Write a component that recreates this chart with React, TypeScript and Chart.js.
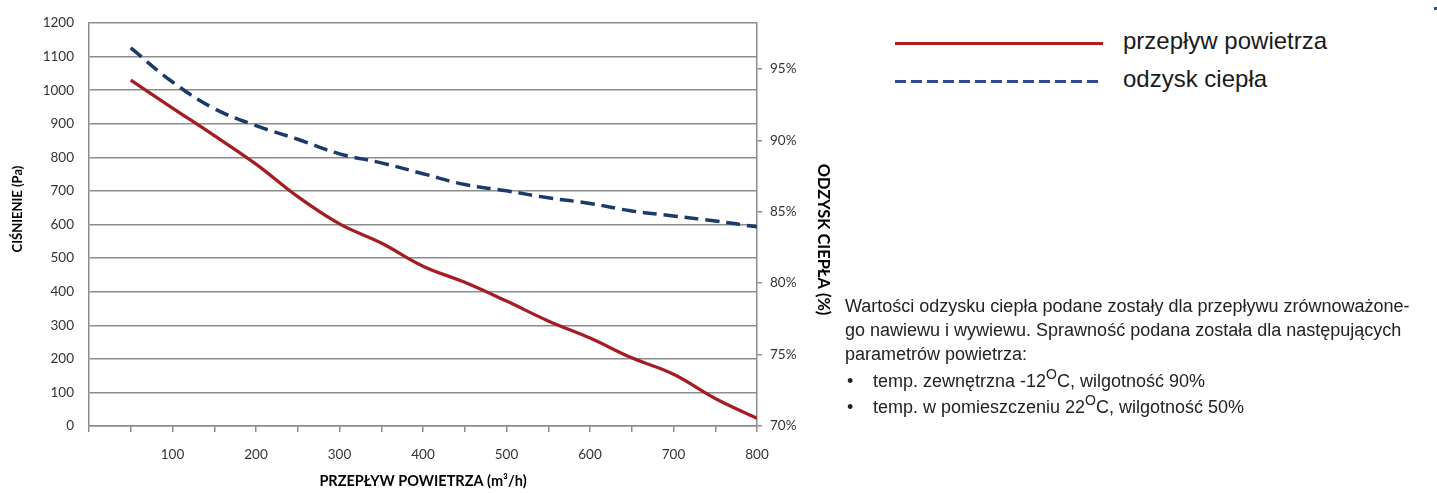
import React, { useEffect, useRef } from "react";
import { Chart, registerables } from "chart.js";

Chart.register(...registerables);

// ---- data ----
const flowRates = [50, 100, 150, 200, 250, 300, 350, 400, 450, 500, 550, 600, 650, 700, 750, 800];
const pressurePa = [1030, 947, 865, 780, 683, 602, 545, 476, 428, 372, 313, 262, 203, 154, 82, 23];
const heatRecoveryPct = [96.46, 94.08, 92.22, 91.02, 90.07, 89.05, 88.42, 87.66, 86.9, 86.46, 85.97, 85.58, 85.05, 84.7, 84.35, 83.94];
const xLabelValues = [100, 200, 300, 400, 500, 600, 700, 800];
const seriesNames = ["przepływ powietrza", "odzysk ciepła"];
const leftTitle = "CIŚNIENIE (Pa)";
const rightTitle = "ODZYSK CIEPŁA (%)";
const bottomTitle = "PRZEPŁYW POWIETRZA (m³/h)";
const noteLines = [
  "Wartości odzysku ciepła podane zostały dla przepływu zrównoważone-",
  "go nawiewu i wywiewu. Sprawność podana została dla następujących",
  "parametrów powietrza:",
];
const bullets = [
  { pre: "temp. zewnętrzna -12", post: "C, wilgotność 90%" },
  { pre: "temp. w pomieszczeniu 22", post: "C, wilgotność 50%" },
];

const RED = "#a51d23";
const BLUE = "#1b3a6b";
const GRID = "#8c8c8c";
const TICK_FONT = { family: "Lato, 'Open Sans', sans-serif", size: 13.5 };

// draws the two vertical axis titles (real canvas text) beside their axes
const sideTitles = {
  id: "sideTitles",
  afterDraw(chart: any) {
    const { ctx, chartArea } = chart;
    const mid = (chartArea.top + chartArea.bottom) / 2;
    ctx.save();
    ctx.fillStyle = "#000";
    ctx.textAlign = "center";
    ctx.textBaseline = "middle";
    ctx.font = "bold 13px Lato, sans-serif";
    ctx.translate(18, mid - 15.5);
    ctx.rotate(-Math.PI / 2);
    ctx.fillText(leftTitle, 0, 0);
    ctx.restore();
    ctx.save();
    ctx.fillStyle = "#000";
    ctx.textAlign = "center";
    ctx.textBaseline = "middle";
    ctx.font = "bold 16.4px Lato, sans-serif";
    ctx.translate(chartArea.right + 66, mid + 15);
    ctx.rotate(Math.PI / 2);
    ctx.fillText(rightTitle, 0, 0);
    ctx.restore();
  },
};

export default function App() {
  const canvasRef = useRef<HTMLCanvasElement | null>(null);

  useEffect(() => {
    document.body.style.margin = "0";
    const canvas = canvasRef.current;
    if (!canvas) return;
    const chart = new Chart(canvas, {
      type: "line",
      data: {
        datasets: [
          {
            label: seriesNames[0],
            data: flowRates.map((x, i) => ({ x, y: pressurePa[i] })),
            borderColor: RED,
            borderWidth: 3.3,
            pointRadius: 0,
            tension: 0.4,
            yAxisID: "y",
          },
          {
            label: seriesNames[1],
            data: flowRates.map((x, i) => ({ x, y: heatRecoveryPct[i] })),
            borderColor: BLUE,
            borderWidth: 3.5,
            borderDash: [14, 7],
            pointRadius: 0,
            tension: 0.4,
            yAxisID: "y1",
          },
        ],
      },
      plugins: [sideTitles],
      options: {
        responsive: false,
        devicePixelRatio: 1,
        animation: false,
        layout: { padding: { top: 20, left: 0, right: 0, bottom: 0 } },
        plugins: { legend: { display: false }, tooltip: { enabled: false } },
        scales: {
          x: {
            type: "linear",
            min: 0,
            max: 800,
            afterFit: (s: any) => {
              s.height = 67;
            },
            ticks: {
              stepSize: 50,
              autoSkip: false,
              maxRotation: 0,
              padding: 15,
              color: "#333",
              font: TICK_FONT,
              callback: (v: any) => (xLabelValues.includes(Number(v)) ? String(v) : ""),
            },
            grid: { drawOnChartArea: false, drawTicks: true, tickLength: 6, color: GRID, lineWidth: 1.5 },
            border: { display: true, color: GRID, width: 1.5 },
            title: {
              display: true,
              text: bottomTitle,
              color: "#000",
              font: { family: "Lato, sans-serif", size: 14.5, weight: "bold" },
              padding: { top: 0, bottom: 3 },
            },
          },
          y: {
            position: "left",
            min: 0,
            max: 1200,
            afterFit: (s: any) => {
              s.width = 89;
            },
            ticks: { stepSize: 100, padding: 15, color: "#333", font: TICK_FONT, callback: (v: any) => String(v) },
            grid: { color: GRID, lineWidth: 1.5, drawTicks: false },
            border: { display: true, color: GRID, width: 1.5 },
            title: { display: false },
          },
          y1: {
            position: "right",
            min: 70,
            max: 98.2,
            afterFit: (s: any) => {
              s.width = 93;
            },
            ticks: {
              stepSize: 5,
              includeBounds: false,
              padding: 8,
              color: "#333",
              font: TICK_FONT,
              callback: (v: any) => `${v}%`,
            },
            grid: { drawOnChartArea: false, drawTicks: true, tickLength: 5, color: GRID, lineWidth: 1.5 },
            border: { display: true, color: GRID, width: 1.5 },
            title: { display: false },
          },
        },
      },
    } as any);
    return () => chart.destroy();
  }, []);

  const textFont = "'Liberation Sans', Arial, sans-serif";

  return (
    <div style={{ position: "relative", width: 1437, height: 493, fontFamily: textFont, background: "#fff", overflow: "hidden" }}>
      <div style={{ position: "absolute", left: 0, top: 0, width: 850, height: 493 }}>
        <canvas ref={canvasRef} width={850} height={493} style={{ display: "block", width: 850, height: 493 }} />
      </div>

      {/* legend */}
      <div style={{ position: "absolute", left: 895, top: 42, width: 208, height: 3, background: "#b01e24" }} />
      <div
        style={{
          position: "absolute",
          left: 895,
          top: 79.5,
          width: 208,
          height: 3,
          background: "repeating-linear-gradient(to right, #2b4a94 0px, #2b4a94 11px, transparent 11px, transparent 16px)",
        }}
      />
      <div style={{ position: "absolute", left: 1123, top: 27.4, fontSize: 24, lineHeight: "28px", color: "#1a1a1a", whiteSpace: "nowrap" }}>
        {seriesNames[0]}
      </div>
      <div style={{ position: "absolute", left: 1123, top: 65, fontSize: 24, lineHeight: "28px", color: "#1a1a1a", whiteSpace: "nowrap" }}>
        {seriesNames[1]}
      </div>

      {/* note */}
      <div style={{ position: "absolute", left: 845, top: 293.5, fontSize: 18, lineHeight: "24px", color: "#222", whiteSpace: "nowrap" }}>
        {noteLines.map((l, i) => (
          <div key={i}>{l}</div>
        ))}
      </div>
      {bullets.map((b, i) => (
        <div
          key={i}
          style={{ position: "absolute", left: 847, top: 368.5 + i * 26, fontSize: 18, lineHeight: "24px", color: "#222", whiteSpace: "nowrap" }}
        >
          <span style={{ display: "inline-block", width: 26 }}>•</span>
          {b.pre}
          <span style={{ fontSize: 14, position: "relative", top: -8 }}>O</span>
          {b.post}
        </div>
      ))}

      <div style={{ position: "absolute", left: 1434, top: 7, width: 3, height: 3, background: "#2e4fa0" }} />
    </div>
  );
}
